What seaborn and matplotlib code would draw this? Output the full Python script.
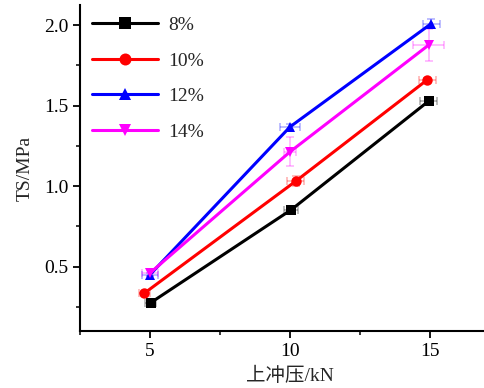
import numpy as np
import pandas as pd
import matplotlib
matplotlib.use("Agg")
import matplotlib.pyplot as plt
import seaborn as sns
from matplotlib.ticker import MultipleLocator

# Upper punch pressure (kN) and tensile strength (MPa) per moisture level
groups = ["8%", "10%", "12%", "14%"]
x_8 = [5.02, 10.05, 14.95]
y_8 = [0.275, 0.854, 1.528]
x_10 = [4.8, 10.2, 14.9]
y_10 = [0.335, 1.03, 1.66]
x_12 = [5.0, 10.0, 15.05]
y_12 = [0.45, 1.368, 2.01]
x_14 = [5.0, 10.0, 14.95]
y_14 = [0.46, 1.213, 1.876]

# Error estimates (x: pressure, y: strength)
xerr_8 = [0.2, 0.25, 0.3]
yerr_8 = [0.01, 0.01, 0.02]
xerr_10 = [0.2, 0.3, 0.3]
yerr_10 = [0.01, 0.03, 0.01]
xerr_12 = [0.3, 0.35, 0.3]
yerr_12 = [0.01, 0.02, 0.03]
xerr_14 = [0.3, 0.2, 0.55]
yerr_14 = [0.02, 0.09, 0.1]

colors = ["#000000", "#ff0000", "#0000ff", "#ff00ff"]
markers = ["s", "o", "^", "v"]

xs = [x_8, x_10, x_12, x_14]
ys = [y_8, y_10, y_12, y_14]
xerrs = [xerr_8, xerr_10, xerr_12, xerr_14]
yerrs = [yerr_8, yerr_10, yerr_12, yerr_14]

df = pd.DataFrame({
    "x": np.concatenate(xs),
    "y": np.concatenate(ys),
    "g": np.repeat(groups, 3),
})

sns.set_style("ticks")
plt.rcParams["font.family"] = ["Liberation Serif", "Noto Sans CJK SC"]
plt.rcParams["font.size"] = 14

fig = plt.figure(figsize=(4.84, 3.88), dpi=100)
ax = fig.add_axes([80 / 484, 57 / 388, 420 / 484, 326 / 388])

# Faint error bars underneath the lines
for xv, yv, xe, ye, c in zip(xs, ys, xerrs, yerrs, colors):
    ax.errorbar(xv, yv, xerr=xe, yerr=ye, fmt="none", ecolor=c,
                alpha=0.3, elinewidth=1.2, capsize=3, capthick=1.2, zorder=1)

sns.lineplot(data=df, x="x", y="y", hue="g", style="g",
             hue_order=groups, style_order=groups,
             palette=dict(zip(groups, colors)),
             markers=dict(zip(groups, markers)),
             dashes=False, linewidth=2.2, markersize=7.5,
             markeredgewidth=0, sort=False, estimator=None,
             ax=ax, zorder=3)

ax.set_xlim(2.5, 17.5)
ax.set_ylim(0.1, 2.125)
ax.xaxis.set_major_locator(MultipleLocator(5))
ax.xaxis.set_minor_locator(MultipleLocator(2.5))
ax.yaxis.set_major_locator(MultipleLocator(0.5))
ax.yaxis.set_minor_locator(MultipleLocator(0.25))
ax.set_yticks([0.5, 1.0, 1.5, 2.0])
ax.tick_params(which="major", direction="out", length=5, width=1.3,
               labelsize=14, colors="black")
ax.tick_params(which="minor", direction="out", length=3, width=1.3)
for s in ["top", "right"]:
    ax.spines[s].set_visible(False)
for s in ["left", "bottom"]:
    ax.spines[s].set_linewidth(1.5)
    ax.spines[s].set_color("black")

ax.set_xlabel("上冲压/kN", fontsize=14, labelpad=5)
ax.set_ylabel("TS/MPa", fontsize=14, labelpad=7)

leg = ax.legend(loc="upper left", bbox_to_anchor=(0.0, 1.0), frameon=False,
                fontsize=14, handlelength=3.4, labelspacing=0.92,
                handletextpad=0.55, borderaxespad=0.2, title=None,
                markerscale=1.15)

fig.savefig("out.png", dpi=100)
